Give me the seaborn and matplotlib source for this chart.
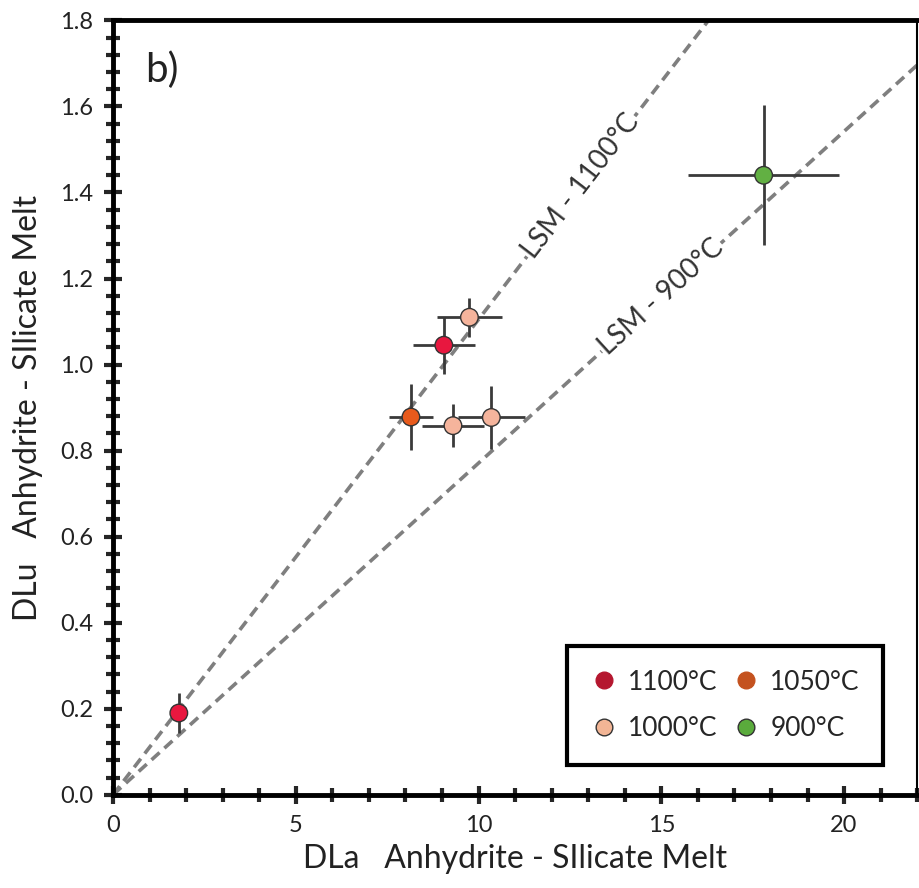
import matplotlib
matplotlib.use("Agg")
import numpy as np
import pandas as pd
import matplotlib.pyplot as plt
from matplotlib.lines import Line2D
from matplotlib.ticker import MultipleLocator, FormatStrFormatter
import seaborn as sns

# Valori
temps = ["1100°C", "1100°C", "1050°C", "1000°C", "1000°C", "1000°C", "900°C"]
dla = [1.8, 9.05, 8.15, 9.75, 9.3, 10.35, 17.8]
dla_err = [0.1, 0.85, 0.6, 0.9, 0.85, 0.92, 2.07]
dlu = [0.19, 1.045, 0.878, 1.11, 0.858, 0.877, 1.44]
dlu_err = [0.046, 0.066, 0.076, 0.045, 0.05, 0.074, 0.163]

# ordine per colonne (ncol=2): riga 1 = 1100, 1050 ; riga 2 = 1000, 900
legend_order = ["1100°C", "1000°C", "1050°C", "900°C"]

lsm_labels = ["LSM - 1100°C", "LSM - 900°C"]
lsm_slopes = [0.1105, 0.0771]
lsm_label_x = [12.8, 15.0]

df = pd.DataFrame({"T": temps, "DLa": dla, "DLa_err": dla_err,
                   "DLu": dlu, "DLu_err": dlu_err})

sns.set_style("white")
plt.rcParams['font.family'] = ['Lato', 'DejaVu Sans']

point_colors = {"1100°C": "#e8173f", "1050°C": "#e85a1c",
                "1000°C": "#f5b49c", "900°C": "#62b043"}
legend_colors = {"1100°C": "#b5172f", "1050°C": "#c4521f",
                 "1000°C": "#f2b595", "900°C": "#5aab3c"}

fig = plt.figure(figsize=(9.19, 8.88), dpi=100)
ax = fig.add_axes([0.123, 0.105, 0.875, 0.872])

# linee LSM
for lab, m, xl in zip(lsm_labels, lsm_slopes, lsm_label_x):
    ax.axline((0, 0), slope=m, color="#7f7f7f", lw=2.6, ls=(0, (3, 1.8)), zorder=1)
    ax.text(xl, m * xl, lab, fontsize=20, color="#333333",
            rotation=np.degrees(np.arctan(m)), rotation_mode="anchor",
            transform_rotates_text=True, ha="center", va="center",
            bbox=dict(facecolor="white", edgecolor="none", pad=1), zorder=2)

# barre d'errore
ax.errorbar(df["DLa"], df["DLu"], xerr=df["DLa_err"], yerr=df["DLu_err"],
            fmt="none", ecolor="#3a3a3a", elinewidth=2, capsize=0, zorder=3)

sns.scatterplot(data=df, x="DLa", y="DLu", hue="T", palette=point_colors,
                s=160, edgecolor="#333333", linewidth=1, legend=False, ax=ax, zorder=4)

ax.set_xlim(0, 22)
ax.set_ylim(0, 1.8)
ax.xaxis.set_major_locator(MultipleLocator(5))
ax.xaxis.set_minor_locator(MultipleLocator(1))
ax.yaxis.set_major_locator(MultipleLocator(0.2))
ax.yaxis.set_minor_locator(MultipleLocator(0.04))
ax.yaxis.set_major_formatter(FormatStrFormatter("%.1f"))
ax.tick_params(which="major", direction="inout", length=13, width=3,
               labelsize=17, labelcolor="#222222", pad=8)
ax.tick_params(which="minor", direction="inout", length=10, width=3)
ax.tick_params(axis="both", which="both", bottom=True, left=True)

for side in ["left", "bottom", "top"]:
    ax.spines[side].set_linewidth(3.5)
    ax.spines[side].set_color("black")
ax.spines["right"].set_linewidth(1.5)
ax.spines["right"].set_color("black")

ax.set_xlabel("DLa   Anhydrite - SIlicate Melt", fontsize=23, color="#222222", labelpad=6)
ax.set_ylabel("DLu   Anhydrite - SIlicate Melt", fontsize=23, color="#222222", labelpad=12)

ax.text(0.04, 0.96, "b)", transform=ax.transAxes, fontsize=29,
        ha="left", va="top", color="#222222")

handles = [Line2D([], [], marker="o", ls="none", markersize=12,
                  markerfacecolor=legend_colors[t],
                  markeredgecolor="#333333" if t in ("1000°C", "900°C") else legend_colors[t],
                  markeredgewidth=1)
           for t in legend_order]
leg = ax.legend(handles, legend_order, ncol=2, loc="lower right",
                bbox_to_anchor=(0.958, 0.039), borderaxespad=0, fontsize=19,
                frameon=True, fancybox=False, edgecolor="black", framealpha=1,
                handletextpad=0.4, columnspacing=0.6, borderpad=0.9,
                labelspacing=0.8, handlelength=1.0)
leg.get_frame().set_linewidth(3)

fig.savefig("out.png", dpi=100)
